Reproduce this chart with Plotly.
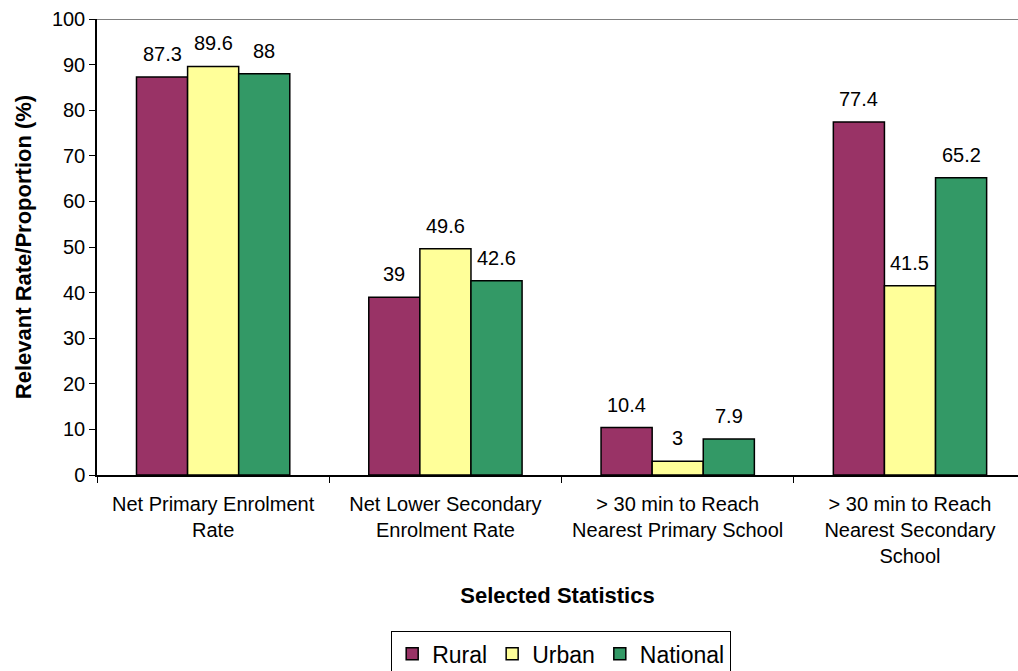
import plotly.graph_objects as go

# Selected education statistics by area
categories = [
    "Net Primary Enrolment<br>Rate",
    "Net Lower Secondary<br>Enrolment Rate",
    "> 30 min to Reach<br>Nearest Primary School",
    "> 30 min to Reach<br>Nearest Secondary<br>School",
]
rural = [87.3, 39, 10.4, 77.4]
urban = [89.6, 49.6, 3, 41.5]
national = [88, 42.6, 7.9, 65.2]

series = [
    ("Rural", rural, "#993366"),
    ("Urban", urban, "#FFFF99"),
    ("National", national, "#339966"),
]

FONT = "Liberation Sans, Arial, sans-serif"
BARGAP = 0.34

fig = go.Figure()
for name, vals, color in series:
    fig.add_trace(go.Bar(
        name=name, x=categories, y=vals,
        marker=dict(color=color, line=dict(color="black", width=1.5)),
    ))

# value labels above each bar, placed at the bar's position within its group
bar_w = (1 - BARGAP) / len(series)
annotations = []
for j, (name, vals, color) in enumerate(series):
    offset = (j - (len(series) - 1) / 2) * bar_w
    for i, v in enumerate(vals):
        annotations.append(dict(
            x=i + offset, y=v, xref="x", yref="y",
            text=f"{v:g}", showarrow=False,
            yanchor="bottom", yshift=10,
            font=dict(family=FONT, size=20, color="black"),
        ))

fig.update_layout(
    width=1018, height=671,
    margin=dict(l=97, r=0, t=19, b=196, autoexpand=False),
    paper_bgcolor="white", plot_bgcolor="white",
    barmode="group", bargap=BARGAP, bargroupgap=0,
    font=dict(family=FONT, size=20, color="black"),
    annotations=annotations,
    showlegend=True,
    legend=dict(
        orientation="h", x=0.504, xanchor="center", y=-0.343, yanchor="top",
        bordercolor="black", borderwidth=1, bgcolor="white",
        font=dict(family=FONT, size=23, color="black"),
        itemwidth=30, tracegroupgap=0,
    ),
    shapes=[dict(
        type="line", xref="paper", yref="y", x0=0, x1=1, y0=100, y1=100,
        line=dict(color="#808080", width=2),
    )],
)

fig.update_xaxes(
    type="category", range=[-0.5, 3.465],
    showline=True, linecolor="black", linewidth=1.5,
    ticks="outside", tickson="boundaries", ticklen=6, tickcolor="black",
    ticklabelstandoff=10,
    showgrid=False, zeroline=False,
    tickfont=dict(family=FONT, size=20, color="black"),
    title=dict(text="<b>Selected Statistics</b>", standoff=22,
               font=dict(family=FONT, size=22, color="black")),
)
fig.update_yaxes(
    range=[0, 100], dtick=10, tick0=0,
    showline=True, linecolor="black", linewidth=1.5,
    ticks="outside", ticklen=6, tickcolor="black",
    showgrid=False, zeroline=False,
    tickfont=dict(family=FONT, size=20, color="black"),
    title=dict(text="<b>Relevant Rate/Proportion (%)</b>", standoff=14,
               font=dict(family=FONT, size=22, color="black")),
)

fig.write_html("out.html")
